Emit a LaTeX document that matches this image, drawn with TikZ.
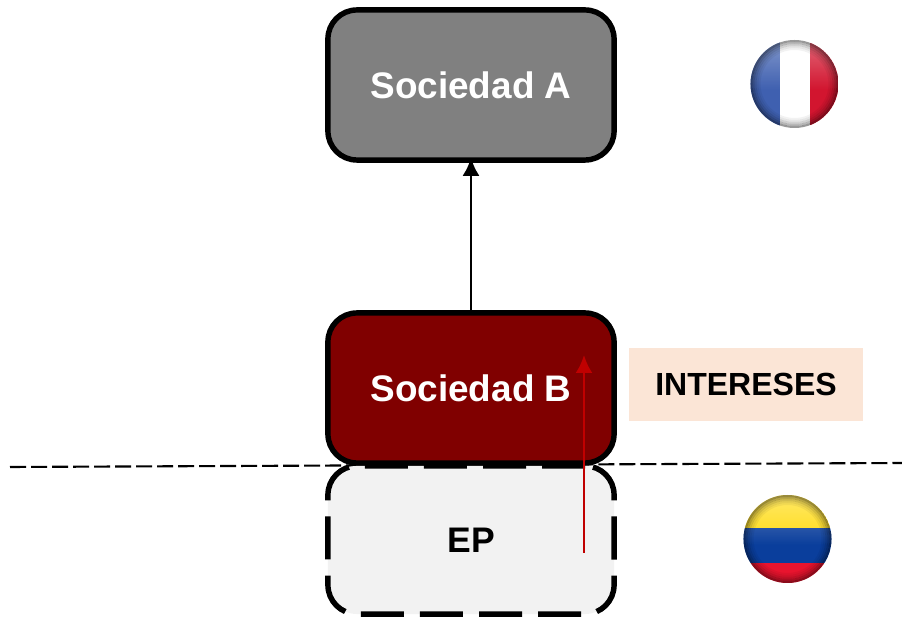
\documentclass[tikz,border=0pt]{standalone}
\usepackage{fontspec}
\setmainfont{Liberation Sans}
\usetikzlibrary{fadings,arrows.meta}
\definecolor{boxgray}{HTML}{808080}
\definecolor{boxred}{HTML}{800000}
\definecolor{epgray}{HTML}{F2F2F2}
\definecolor{arrowred}{HTML}{C00000}
\definecolor{tagpeach}{HTML}{FBE5D6}
\definecolor{frblue}{HTML}{3F60B0}
\definecolor{frred}{HTML}{D2152F}
\definecolor{coyellow}{HTML}{FFDC14}
\definecolor{coblue}{HTML}{0A3E9C}
\definecolor{cored}{HTML}{E8142E}
\tikzfading[name=flagtop, top color=transparent!65, bottom color=transparent!100]
\tikzset{
  company/.style={draw, line width=1.55pt, rounded corners=2.9mm, minimum width=2.86cm, minimum height=1.5cm, font=\fontsize{10.5}{12}\bfseries},
  flagglow/.style={fill=white, path fading=flagtop},
  link/.style={line width=0.75pt, shorten >=-0.5mm, -{Latex[length=1.8mm,width=1.7mm]}},
}
\begin{document}
\begin{tikzpicture}[x=0.01cm, y=-0.01cm]
  \useasboundingbox (0,0) rectangle (902,619);
  % border between the countries
  \coordinate (borderL) at (10,467);
  \coordinate (borderR) at (902,463);
  \draw [line width=0.6pt, dash pattern=on 1.6mm off 0.5mm] (borderL) -- (borderR);
  \node[company, fill=boxgray, text=white](socA) at (471,85){Sociedad A};
  \node[company, fill=boxred, text=white](socB) at (471,388){Sociedad B};
  \node[company, fill=epgray, minimum height=1.48cm, dash pattern=on 4.3mm off 1.6mm, font=\fontsize{10.1}{12}\bfseries](ep) at (471,540){EP};
  \node[fill=tagpeach, minimum width=2.34cm, minimum height=0.73cm, inner sep=0pt, font=\fontsize{9.1}{11}\bfseries](tag) at (746,384.5){INTERESES};
  \draw [link] (socB.north) -- (socA.south);
  \coordinate (intStart) at (584,553);
  \coordinate (intEnd) at (584,360);
  \draw [link, arrowred] (intStart) -- (intEnd);
  % French flag
  \coordinate (fr) at (794.5,84);
  \begin{scope}
    \clip (fr) circle (0.44cm);
    \fill[frblue] (750,40) rectangle (780,128);
    \fill[white] (780,40) rectangle (810,128);
    \fill[frred] (810,40) rectangle (839,128);
  \end{scope}
  % Colombian flag
  \coordinate (co) at (787.5,539);
  \begin{scope}
    \clip (co) circle (0.44cm);
    \fill[coyellow] (743,495) rectangle (832,528);
    \fill[coblue] (743,528) rectangle (832,563);
    \fill[cored] (743,563) rectangle (832,583);
  \end{scope}
  % rim and gloss of both flags
  \foreach \flag in {fr,co} {
    \begin{scope}
      \clip (\flag) circle (0.44cm);
      \fill[flagglow] (\flag) ++(-44,-44) rectangle ++(88,50);
      \foreach \rim/\op in {43/0.4,41/0.28,39/0.18,37/0.1,35/0.05}
        \draw[black, line width=0.02cm, opacity=\op] (\flag) circle (\rim*0.01cm);
    \end{scope}
  }
\end{tikzpicture}
\end{document}
